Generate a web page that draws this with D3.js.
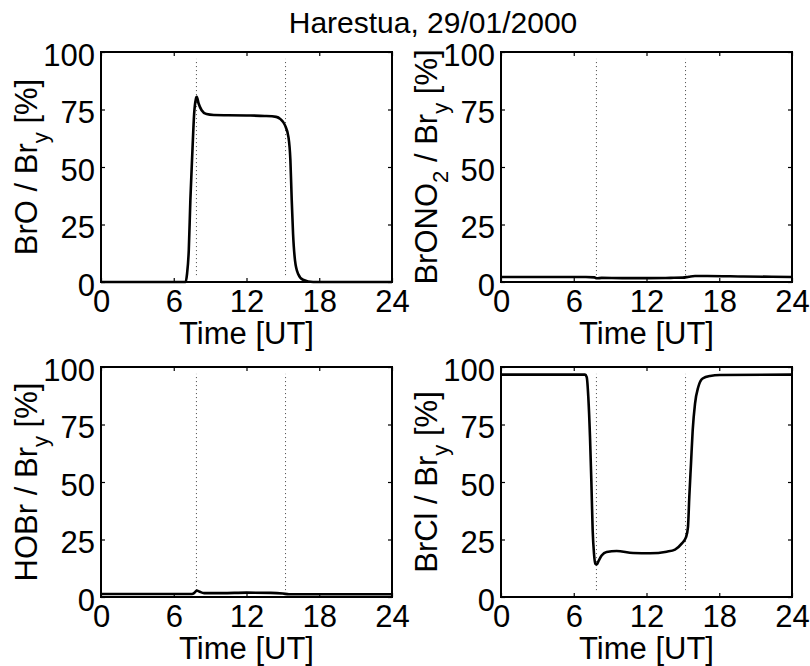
<!DOCTYPE html>
<html>
<head>
<meta charset="utf-8">
<script src="https://cdn.jsdelivr.net/npm/d3@7"></script>
<style>
  body { margin: 0; background: #fff; }
  text { font-family: "Liberation Sans", Arial, Helvetica, sans-serif; fill: #000; }
</style>
</head>
<body>
<div id="chart"></div>
<script>
// ---- data ----
var titleText = "Harestua, 29/01/2000";
var xTicks = [0, 6, 12, 18, 24];
var yTicks = [0, 25, 50, 75, 100];
var markTimes = [7.87, 15.22];     // dotted vertical markers
var markRange = [3, 97];

var broTime = [0, 6.98, 7.1, 7.24, 7.37, 7.54, 7.68, 7.82, 7.9, 8.05, 8.3, 8.7, 9.3, 10.5, 12, 13.5, 14.45, 14.8, 15.17, 15.46, 15.62, 15.73, 15.84, 16.0, 16.25, 16.66, 17.5, 24];
var broVal  = [0, 0, 3.7, 13.8, 35.6, 57, 73, 79.5, 80.5, 77.6, 74.7, 73, 72.6, 72.5, 72.4, 72.2, 71.8, 70.8, 68.2, 63, 53, 35.6, 21, 9.4, 3.6, 1, 0, 0];

var bronoTime = [0, 7, 7.7, 7.9, 8.3, 10, 12, 14, 15, 15.5, 16, 17, 20, 24];
var bronoVal  = [2.2, 2.2, 2.0, 1.6, 1.8, 1.7, 1.7, 1.8, 1.9, 2.3, 2.6, 2.6, 2.4, 2.2];

var hobrTime = [0, 7.5, 7.7, 7.9, 8.1, 8.5, 10, 12, 14, 15, 15.5, 16, 24];
var hobrVal  = [1.3, 1.3, 1.8, 2.8, 2.4, 1.7, 1.7, 1.9, 1.8, 1.5, 1.2, 1.2, 1.2];

var brclTime = [0, 6.93, 7.07, 7.2, 7.34, 7.45, 7.56, 7.67, 7.78, 7.89, 8.05, 8.3, 8.71, 9.54, 10.9, 12.3, 13.66, 14.35, 14.9, 15.26, 15.42, 15.53, 15.67, 15.81, 16.0, 16.27, 16.63, 17.24, 18.06, 24];
var brclVal  = [96.7, 96.7, 95.6, 87, 69.6, 50.7, 29, 18.8, 14.5, 14.1, 15.7, 18, 19.6, 20, 19.1, 19, 19.7, 20.6, 23.2, 26, 30.4, 43.5, 58, 72.5, 84, 91.3, 95, 96.1, 96.5, 96.7];

// y labels: [text, isSubscript]
var broLabel   = [["BrO / Br", 0], ["y", 1], [" [%]", 0]];
var bronoLabel = [["BrONO", 0], ["2", 1], [" / Br", 0], ["y", 1], [" [%]", 0]];
var hobrLabel  = [["HOBr / Br", 0], ["y", 1], [" [%]", 0]];
var brclLabel  = [["BrCl / Br", 0], ["y", 1], [" [%]", 0]];
var xLabel = "Time [UT]";

// ---- layout ----
var W = 810, H = 666;
var pw = 291, ph = 230;
var fs = 31, subFs = 22;

var panels = [
  {left: 101, top: 52,  t: broTime,   v: broVal,   label: broLabel},
  {left: 501, top: 52,  t: bronoTime, v: bronoVal, label: bronoLabel},
  {left: 101, top: 367, t: hobrTime,  v: hobrVal,  label: hobrLabel},
  {left: 501, top: 367, t: brclTime,  v: brclVal,  label: brclLabel}
];

var svg = d3.select("#chart").append("svg")
    .attr("width", W)
    .attr("height", H);

svg.append("text")
    .attr("x", 433)
    .attr("y", 33)
    .attr("text-anchor", "middle")
    .style("font-size", "30px")
    .text(titleText);

var x = d3.scaleLinear().domain([0, 24]).range([0, pw]);
var y = d3.scaleLinear().domain([0, 100]).range([ph, 0]);

panels.forEach(function(p) {
  var g = svg.append("g")
      .attr("transform", "translate(" + p.left + "," + p.top + ")");

  // dotted markers
  markTimes.forEach(function(m) {
    g.append("line")
        .attr("x1", x(m)).attr("x2", x(m))
        .attr("y1", y(markRange[0])).attr("y2", y(markRange[1]))
        .attr("stroke", "#444")
        .attr("stroke-width", 1)
        .attr("stroke-dasharray", "1,3");
  });

  // bottom axis with labels
  var xa = g.append("g")
      .attr("transform", "translate(0," + ph + ")")
      .call(d3.axisBottom(x).tickValues(xTicks).tickSizeInner(-4).tickSizeOuter(0).tickPadding(8));
  // top axis, ticks only
  var xt = g.append("g")
      .call(d3.axisTop(x).tickValues(xTicks).tickSizeInner(-4).tickSizeOuter(0).tickFormat(""));
  // left axis with labels
  var ya = g.append("g")
      .call(d3.axisLeft(y).tickValues(yTicks).tickSizeInner(-4).tickSizeOuter(0).tickPadding(6));
  // right axis, ticks only
  var yt = g.append("g")
      .attr("transform", "translate(" + pw + ",0)")
      .call(d3.axisRight(y).tickValues(yTicks).tickSizeInner(-4).tickSizeOuter(0).tickFormat(""));

  [xa, xt, ya, yt].forEach(function(a) {
    a.select(".domain").remove();
    a.selectAll(".tick line").attr("stroke", "#000").attr("stroke-width", 1.2);
    a.selectAll("text").style("font-size", fs + "px").attr("font-family", null);
  });
  ya.selectAll(".tick text").attr("dy", "0.43em");

  // data line
  var pts = p.t.map(function(t, i) { return [t, p.v[i]]; });
  g.append("path")
      .datum(pts)
      .attr("d", d3.line()
          .x(function(d) { return x(d[0]); })
          .y(function(d) { return y(d[1]); })
          .curve(d3.curveMonotoneX))
      .attr("fill", "none")
      .attr("stroke", "#000")
      .attr("stroke-width", 2.6);

  // box
  g.append("rect")
      .attr("width", pw)
      .attr("height", ph)
      .attr("fill", "none")
      .attr("stroke", "#000")
      .attr("stroke-width", 2);

  // x label
  g.append("text")
      .attr("x", pw / 2)
      .attr("y", ph + 62)
      .attr("text-anchor", "middle")
      .style("font-size", fs + "px")
      .text(xLabel);

  // y label (rotated, with subscripts)
  var yl = g.append("text")
      .attr("transform", "translate(-64," + (ph / 2) + ") rotate(-90)")
      .attr("text-anchor", "middle")
      .style("font-size", fs + "px");
  var shift = 0;
  p.label.forEach(function(seg) {
    var want = seg[1] ? 11 : 0;
    yl.append("tspan")
        .attr("dy", want - shift)
        .style("font-size", (seg[1] ? subFs : fs) + "px")
        .text(seg[0]);
    shift = want;
  });
});
</script>
</body>
</html>
